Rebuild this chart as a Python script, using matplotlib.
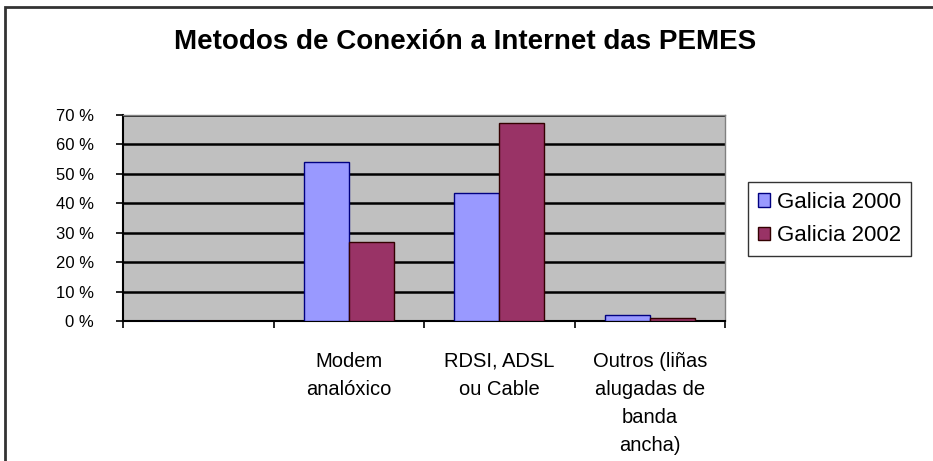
import matplotlib.pyplot as plt
import matplotlib
import numpy as np
from matplotlib.patches import Rectangle
from matplotlib.ticker import FixedLocator

categorias = ["", "Modem\nanalóxico", "RDSI, ADSL\nou Cable", "Outros (liñas\nalugadas de\nbanda\nancha)"]
galicia_2000 = [0, 54, 43.5, 2]
galicia_2002 = [0, 27, 67.3, 1]
series = ["Galicia 2000", "Galicia 2002"]
y_ticks = [0, 10, 20, 30, 40, 50, 60, 70]

matplotlib.rcParams['font.family'] = ['Liberation Sans', 'DejaVu Sans']

fig = plt.figure(figsize=(9.33, 4.61), dpi=100)
# marco exterior
fig.patches.append(Rectangle((5/933, -0.1), 1.1, (461-7)/461 + 0.1, transform=fig.transFigure,
                             fill=False, edgecolor='#333333', lw=2))

ax = fig.add_axes([123/933, 140/461, 602/933, 206/461])
ax.set_facecolor('#C0C0C0')

x = np.arange(len(categorias))
w = 0.3
ax.bar(x - w/2, galicia_2000, w, color='#9999FF', edgecolor='#000080', lw=1, label=series[0], zorder=3)
ax.bar(x + w/2, galicia_2002, w, color='#993366', edgecolor='#330000', lw=1, label=series[1], zorder=3)

ax.set_xlim(-0.5, len(categorias) - 0.5)
ax.set_ylim(0, 70)
ax.yaxis.set_major_locator(FixedLocator(y_ticks))
ax.set_yticklabels(['%d %%' % v for v in y_ticks], fontsize=12)
ax.grid(axis='y', color='black', lw=1.8, zorder=1)

ax.xaxis.set_major_locator(FixedLocator(np.arange(len(categorias) + 1) - 0.5))
ax.xaxis.set_minor_locator(FixedLocator(x))
ax.set_xticklabels([], minor=False)
ax.set_xticklabels(categorias, minor=True, fontsize=14.5, linespacing=1.6, va='top')
ax.tick_params(axis='x', which='minor', length=0, pad=22)
ax.tick_params(axis='x', which='major', length=5, direction='out', width=1.2)
ax.tick_params(axis='y', length=5, direction='out', width=1.2, pad=16)

for s in ['left', 'bottom']:
    ax.spines[s].set_color('black')
    ax.spines[s].set_linewidth(1.5)
for s in ['top', 'right']:
    ax.spines[s].set_color('#808080')
    ax.spines[s].set_linewidth(1)

fig.text(465/933, 1 - 42/461, "Metodos de Conexión a Internet das PEMES", ha='center', va='center',
         fontsize=20, fontweight='bold')

leg = ax.legend(loc='center left', bbox_to_anchor=(748/933, 1 - 219/461), bbox_transform=fig.transFigure,
                fontsize=16, frameon=True, fancybox=False, edgecolor='black', borderpad=0.45,
                handlelength=0.55, handleheight=0.55, handletextpad=0.3, labelspacing=0.55, borderaxespad=0)
leg.get_frame().set_linewidth(1)

fig.savefig('out.png', dpi=100)
